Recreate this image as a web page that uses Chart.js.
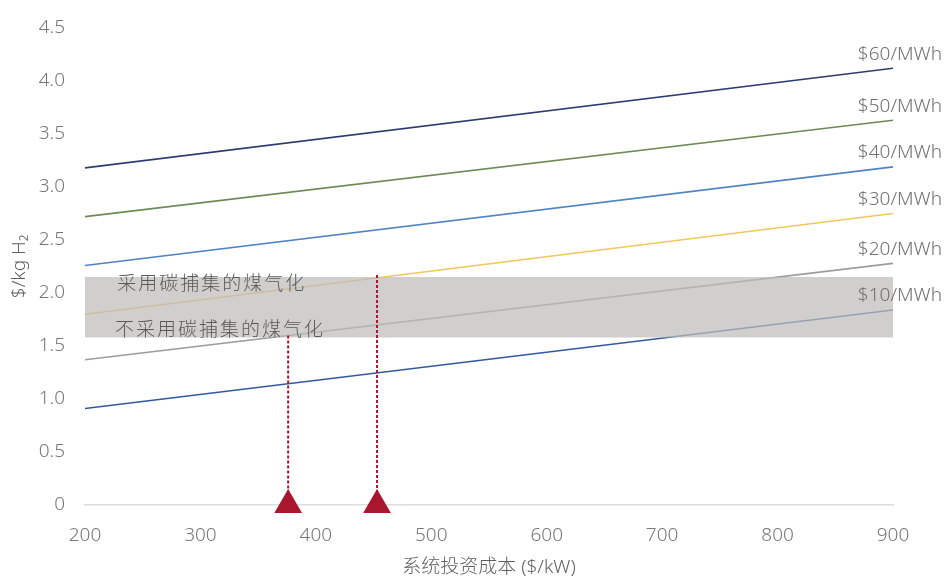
<!DOCTYPE html>
<html>
<head>
<meta charset="utf-8">
<script src="https://cdn.jsdelivr.net/npm/chart.js@4.4.1/dist/chart.umd.min.js"></script>
<style>
  body { margin: 0; background: #fff; }
  #wrap { width: 944px; height: 580px; }
</style>
</head>
<body>
<div id="wrap"><canvas id="costChart"></canvas></div>
<script>
// x: system capex ($/kW), y: $/kg H2
const capex = [200, 900];
const lineNames = ['$60/MWh', '$50/MWh', '$40/MWh', '$30/MWh', '$20/MWh', '$10/MWh'];
const cost60 = [3.18, 4.12];
const cost50 = [2.72, 3.63];
const cost40 = [2.26, 3.19];
const cost30 = [1.80, 2.75];
const cost20 = [1.37, 2.28];
const cost10 = [0.91, 1.84];
const lineColors = ['#2e3b6e', '#6d8a55', '#4f82c2', '#efc75a', '#9c9c9c', '#32599f'];

const bandNames = ['采用碳捕集的煤气化', '不采用碳捕集的煤气化'];
const coalCcs = 2.15;     // with carbon capture
const coalNoCcs = 1.58;   // without carbon capture

const breakEvenX = [376, 453];
const breakEvenY = [1.60, 2.17];

const xTicks = [200, 300, 400, 500, 600, 700, 800, 900];
const yTicks = [0, 0.5, 1.0, 1.5, 2.0, 2.5, 3.0, 3.5, 4.0, 4.5];

const allCosts = [cost60, cost50, cost40, cost30, cost20, cost10];

const datasets = allCosts.map((vals, i) => ({
    label: lineNames[i],
    data: capex.map((x, j) => ({ x: x, y: vals[j] })),
    borderColor: lineColors[i],
    borderWidth: 1.6,
    pointRadius: 0,
    fill: false,
    order: 2
}));

// grey band between the two gasification costs
datasets.push({
    label: bandNames[0],
    data: capex.map(x => ({ x: x, y: coalCcs })),
    borderWidth: 0,
    pointRadius: 0,
    backgroundColor: 'rgba(190,188,186,0.72)',
    fill: '+1',
    order: 1
});
datasets.push({
    label: bandNames[1],
    data: capex.map(x => ({ x: x, y: coalNoCcs })),
    borderWidth: 0,
    pointRadius: 0,
    fill: false,
    order: 1
});

// dashed drop lines with triangle markers
breakEvenX.forEach((bx, i) => {
    datasets.push({
        label: 'breakeven' + i,
        data: [{ x: bx, y: breakEvenY[i] }, { x: bx, y: 0 }],
        borderColor: '#a8172e',
        borderWidth: 2,
        borderDash: [3, 2],
        pointRadius: [0, 14],
        pointStyle: 'triangle',
        pointBackgroundColor: '#a8172e',
        pointBorderColor: '#a8172e',
        clip: false,
        order: 0
    });
});

const textFont = '"Noto Sans", "Noto Sans CJK SC", sans-serif';

const labelPlugin = {
    id: 'labels',
    afterDatasetsDraw(chart) {
        const ctx = chart.ctx;
        const xs = chart.scales.x, ys = chart.scales.y;
        ctx.save();
        ctx.fillStyle = '#707070';
        ctx.font = '300 19px ' + textFont;
        ctx.textAlign = 'right';
        ctx.textBaseline = 'middle';
        allCosts.forEach((vals, i) => {
            const px = xs.getPixelForValue(capex[1]) + 49;
            const py = ys.getPixelForValue(vals[1]) - 14;
            ctx.fillText(lineNames[i], px, py);
        });
        ctx.fillStyle = '#5a5a5a';
        ctx.font = '300 19px ' + textFont;
        ctx.letterSpacing = '2px';
        ctx.textAlign = 'left';
        ctx.fillText(bandNames[0], xs.getPixelForValue(228), ys.getPixelForValue(coalCcs) + 7);
        ctx.fillText(bandNames[1], xs.getPixelForValue(226), ys.getPixelForValue(coalNoCcs) - 7);
        ctx.restore();
    }
};

new Chart(document.getElementById('costChart'), {
    type: 'line',
    data: { datasets: datasets },
    options: {
        responsive: true,
        maintainAspectRatio: false,
        animation: false,
        layout: { padding: { top: 28, right: 51, left: 0, bottom: 0 } },
        plugins: {
            legend: { display: false },
            tooltip: { enabled: false }
        },
        scales: {
            x: {
                type: 'linear',
                min: 200,
                max: 900,
                afterBuildTicks: scale => { scale.ticks = xTicks.map(v => ({ value: v })); },
                afterFit: scale => { scale.height = 75; },
                grid: { display: false },
                border: { display: true, color: '#dcdcdc', width: 1.5 },
                ticks: { color: '#777', font: { size: 19, weight: '300', family: textFont }, padding: 11, maxRotation: 0 },
                title: {
                    display: true,
                    text: '系统投资成本 ($/kW)',
                    color: '#606060',
                    font: { size: 19, weight: '300', family: textFont },
                    padding: { top: 0, bottom: 1 }
                }
            },
            y: {
                min: 0,
                max: 4.5,
                afterBuildTicks: scale => { scale.ticks = yTicks.map(v => ({ value: v })); },
                afterFit: scale => { scale.width = 85; },
                grid: { display: false },
                border: { display: false },
                ticks: {
                    color: '#777',
                    font: { size: 19, weight: '300', family: textFont },
                    padding: 12,
                    callback: v => (v === 0 ? '0' : v.toFixed(1))
                },
                title: {
                    display: true,
                    text: '$/kg H₂',
                    color: '#606060',
                    font: { size: 19, weight: '300', family: textFont },
                    padding: { top: 8, bottom: 0 }
                }
            }
        }
    },
    plugins: [labelPlugin]
});
</script>
</body>
</html>
